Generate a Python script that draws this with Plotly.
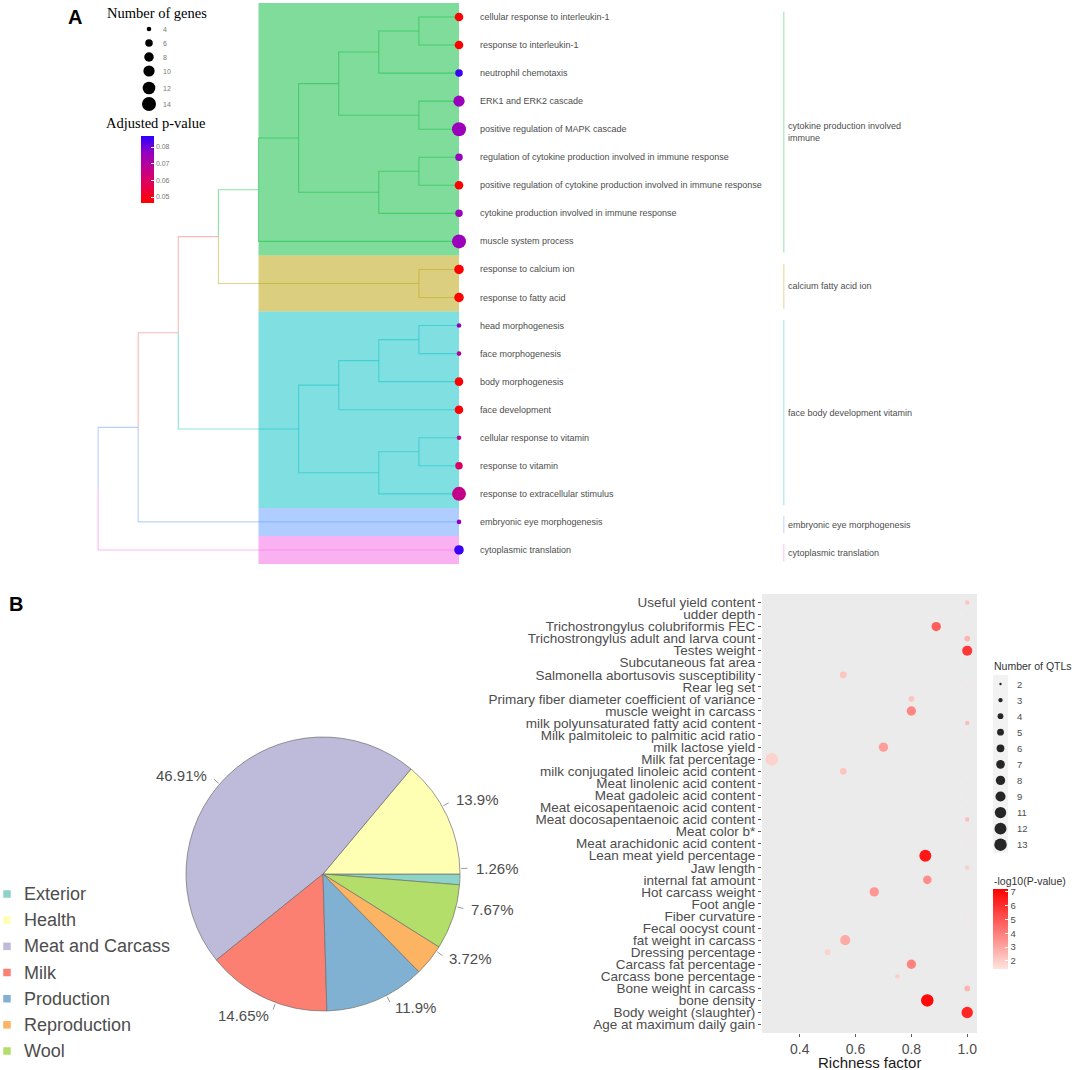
import numpy as np
import plotly.graph_objects as go

W, H = 1072, 1070
FONT = "Liberation Sans, Arial, sans-serif"
SERIF = "Liberation Serif, Times New Roman, serif"

# ================= Panel A data =================
go_terms = [
    "cellular response to interleukin-1", "response to interleukin-1", "neutrophil chemotaxis",
    "ERK1 and ERK2 cascade", "positive regulation of MAPK cascade",
    "regulation of cytokine production involved in immune response",
    "positive regulation of cytokine production involved in immune response",
    "cytokine production involved in immune response", "muscle system process",
    "response to calcium ion", "response to fatty acid", "head morphogenesis", "face morphogenesis",
    "body morphogenesis", "face development", "cellular response to vitamin", "response to vitamin",
    "response to extracellular stimulus", "embryonic eye morphogenesis", "cytoplasmic translation",
]
gene_counts = [7, 7, 6, 10, 14, 6, 7, 6, 14, 8, 8, 4, 4, 7, 7, 4, 6, 14, 4, 8]
adj_pvalues = [0.046, 0.046, 0.085, 0.075, 0.075, 0.076, 0.046, 0.075, 0.075, 0.046, 0.046,
               0.076, 0.069, 0.046, 0.046, 0.067, 0.060, 0.066, 0.076, 0.085]

# dendrogram merges: (node, child1, child2, height)
tree_merges = [
    ("a", "L1", "L2", 1), ("b", "a", "L3", 2), ("c", "L4", "L5", 1), ("d", "b", "c", 3),
    ("e", "L6", "L7", 1), ("f", "e", "L8", 2), ("g", "d", "f", 4), ("h", "g", "L9", 5),
    ("t", "L10", "L11", 1), ("i", "h", "t", 6),
    ("j", "L12", "L13", 1), ("k", "j", "L14", 2), ("l", "k", "L15", 3),
    ("m", "L16", "L17", 1), ("n", "m", "L18", 2), ("o", "l", "n", 4),
    ("p", "i", "o", 7), ("q", "p", "L19", 8), ("r", "q", "L20", 9),
]
cluster_names = ["cytokine production involved<br>immune", "calcium fatty acid ion",
                 "face body development vitamin", "embryonic eye morphogenesis",
                 "cytoplasmic translation"]
cluster_first = [1, 10, 12, 19, 20]
cluster_last = [9, 11, 18, 19, 20]
cluster_rgb = [(0, 186, 56), (183, 159, 0), (0, 191, 196), (97, 156, 255), (245, 100, 227)]
root_rgb = (248, 118, 109)
# edge colour group of each internal node (to its parent)
internal_group = {"a": 0, "b": 0, "c": 0, "d": 0, "e": 0, "f": 0, "g": 0, "h": 0, "t": 1,
                  "j": 2, "k": 2, "l": 2, "m": 2, "n": 2, "o": 2,
                  "i": "root", "p": "root", "q": 3}
pval_ticks = [0.05, 0.06, 0.07, 0.08]
gene_legend = [4, 6, 8, 10, 12, 14]

# ================= Panel B data =================
pie_labels = ["Exterior", "Health", "Meat and Carcass", "Milk", "Production", "Reproduction", "Wool"]
pie_values = [1.26, 13.9, 46.91, 14.65, 11.9, 3.72, 7.67]
pie_colors = ["#8DD3C7", "#FFFFB3", "#BEBADA", "#FB8072", "#80B1D3", "#FDB462", "#B3DE69"]

qtl_traits = [
    "Useful yield content", "udder depth", "Trichostrongylus colubriformis FEC",
    "Trichostrongylus adult and larva count", "Testes weight", "Subcutaneous fat area",
    "Salmonella abortusovis susceptibility", "Rear leg set",
    "Primary fiber diameter coefficient of variance", "muscle weight in carcass",
    "milk polyunsaturated fatty acid content", "Milk palmitoleic to palmitic acid ratio",
    "milk lactose yield", "Milk fat percentage", "milk conjugated linoleic acid content",
    "Meat linolenic acid content", "Meat gadoleic acid content", "Meat eicosapentaenoic acid content",
    "Meat docosapentaenoic acid content", "Meat color b*", "Meat arachidonic acid content",
    "Lean meat yield percentage", "Jaw length", "internal fat amount", "Hot carcass weight",
    "Foot angle", "Fiber curvature", "Fecal oocyst count", "fat weight in carcass",
    "Dressing percentage", "Carcass fat percentage", "Carcass bone percentage",
    "Bone weight in carcass", "bone density", "Body weight (slaughter)", "Age at maximum daily gain",
]
richness = [1.0, 1.0, 0.889, 1.0, 1.0, 1.0, 0.556, 1.0, 0.8, 0.8, 1.0, 1.0, 0.7, 0.3, 0.556,
            1.0, 1.0, 1.0, 1.0, 1.0, 1.0, 0.85, 1.0, 0.857, 0.667, 1.0, 1.0, 1.0, 0.563,
            0.5, 0.8, 0.75, 1.0, 0.857, 1.0, 1.0]
qtl_counts = [3, 2, 8, 4, 9, 2, 5, 2, 4, 8, 3, 2, 8, 13, 5, 2, 2, 2, 3, 2, 2, 12, 3, 7, 8,
              2, 2, 2, 9, 4, 8, 3, 4, 13, 11, 2]
neglog10p = [2.2, 1.5, 4.8, 2.6, 5.8, 1.5, 2.2, 1.5, 2.2, 3.8, 2.4, 1.5, 3.2, 1.9, 2.2,
             1.5, 1.5, 1.5, 2.4, 1.5, 1.5, 6.6, 2.0, 3.6, 3.4, 1.5, 1.5, 1.5, 2.9,
             1.9, 3.9, 2.0, 2.6, 7.0, 6.2, 1.5]
qtl_legend = [2, 3, 4, 5, 6, 7, 8, 9, 11, 12, 13]
richness_ticks = [0.4, 0.6, 0.8, 1.0]
logp_ticks = [2, 3, 4, 5, 6, 7]


def sizeA(g):
    return 14 * np.sqrt((np.asarray(g, float) - 2.8) / 11.2)


def sizeB(n):
    return 12.5 * np.sqrt((np.asarray(n, float) - 1.6) / 11.4)


def rgba(c, a):
    return f"rgba({c[0]},{c[1]},{c[2]},{a})"


fig = go.Figure()

# ---------- layout geometry (pixels) ----------
leaf_px, step_px = 459.0, 40.1        # tree x
leaf1_py, leafstep_py = 17.0, 28.05   # tree y
A_bottom = 575.0

# ================= Panel A: dendrogram =================
node_x = {f"L{i+1}": 0.0 for i in range(len(go_terms))}
node_y = {f"L{i+1}": float(i + 1) for i in range(len(go_terms))}
parent = {}
for name, c1, c2, h in tree_merges:
    node_x[name] = float(h)
    node_y[name] = (node_y[c1] + node_y[c2]) / 2
    parent[c1] = name
    parent[c2] = name

leaf_group = {}
for ci, (f0, l0) in enumerate(zip(cluster_first, cluster_last)):
    for k in range(f0, l0 + 1):
        leaf_group[f"L{k}"] = ci


def group_of(n):
    return leaf_group[n] if n.startswith("L") else internal_group[n]


segs = {}
for child, par in parent.items():
    g = group_of(child)
    xs, ys = segs.setdefault(g, ([], []))
    xs += [node_x[child], node_x[par], node_x[par], None]
    ys += [node_y[child], node_y[child], node_y[par], None]

# cluster rectangles
rect_left = 5.0
for ci in range(len(cluster_names)):
    fig.add_shape(type="rect", xref="x", yref="y", x0=rect_left, x1=0,
                  y0=cluster_first[ci] - 0.5, y1=cluster_last[ci] + 0.5,
                  fillcolor=rgba(cluster_rgb[ci], 0.5), line_width=0, layer="below")

for g, (xs, ys) in segs.items():
    col = rgba(root_rgb, 0.5) if g == "root" else rgba(cluster_rgb[g], 0.45)
    fig.add_trace(go.Scatter(x=xs, y=ys, mode="lines", line=dict(color=col, width=1.1),
                             hoverinfo="skip", showlegend=False, xaxis="x", yaxis="y"))

pv_scale = [[0, "#FF0000"], [0.25, "#E6004C"], [0.5, "#C2008C"], [0.75, "#9400C2"], [1, "#2A00FF"]]
fig.add_trace(go.Scatter(
    x=[0.0] * len(go_terms), y=list(range(1, len(go_terms) + 1)), mode="markers",
    marker=dict(size=sizeA(gene_counts), color=adj_pvalues, colorscale=pv_scale,
                cmin=0.0464, cmax=0.0866, line_width=0, opacity=1,
                showscale=True,
                colorbar=dict(x=141 / W, xanchor="left", y=1 - 169.5 / H, yanchor="middle",
                              len=67, lenmode="pixels", thickness=13, thicknessmode="pixels",
                              xpad=0, ypad=0, outlinewidth=0, tickvals=pval_ticks,
                              ticktext=[f"{v:.2f}" for v in pval_ticks], ticks="inside",
                              tickcolor="white", ticklen=3,
                              tickfont=dict(size=7, color="#777777", family=FONT))),
    hoverinfo="skip", showlegend=False, xaxis="x", yaxis="y"))

for i, term in enumerate(go_terms):
    fig.add_annotation(x=-0.47, y=i + 1, xref="x", yref="y", text=term, showarrow=False,
                       xanchor="left", yanchor="middle",
                       font=dict(size=9, color="#4D4D4D", family=FONT))

lab_x = -8.1
for ci, name in enumerate(cluster_names):
    y0, y1 = cluster_first[ci] - 0.2, cluster_last[ci] + 0.4
    fig.add_trace(go.Scatter(x=[lab_x, lab_x], y=[y0, y1], mode="lines",
                             line=dict(color=rgba(cluster_rgb[ci], 0.35), width=1.2),
                             hoverinfo="skip", showlegend=False, xaxis="x", yaxis="y"))
    fig.add_annotation(x=lab_x - 0.05, y=(y0 + y1) / 2, xref="x", yref="y", text=name,
                       showarrow=False, xanchor="left", yanchor="middle", align="left",
                       font=dict(size=9, color="#4D4D4D", family=FONT))

# ================= Panel B: pie =================
cx, cy, R = 323.0, 874.0, 137.0
fig.add_trace(go.Pie(
    values=pie_values, labels=pie_labels, sort=False, direction="counterclockwise", rotation=90,
    marker=dict(colors=pie_colors, line=dict(color="#6E6E6E", width=0.7)),
    textinfo="none", hoverinfo="skip", showlegend=False,
    domain=dict(x=[(cx - R) / W, (cx + R) / W], y=[1 - (cy + R) / H, 1 - (cy - R) / H])))

vals = np.asarray(pie_values)
cum = np.cumsum(vals) - vals / 2
theta = cum / vals.sum() * 2 * np.pi
tx, ty = [], []
for k, th in enumerate(theta):
    c, s = np.cos(th), np.sin(th)
    tx += [1.01 * c, 1.055 * c, None]
    ty += [1.01 * s, 1.055 * s, None]
    fig.add_annotation(x=1.1 * c, y=1.1 * s, xref="x3", yref="y3",
                       text=f"{pie_values[k]}%", showarrow=False,
                       xanchor="left" if c > 0 else "right", yanchor="middle",
                       font=dict(size=15, color="#4D4D4D", family=FONT))
fig.add_trace(go.Scatter(x=tx, y=ty, mode="lines", line=dict(color="#7F7F7F", width=0.8),
                         hoverinfo="skip", showlegend=False, xaxis="x3", yaxis="y3"))

# pie legend
leg_y0, leg_dy = 894.0, 26.17
for k, lab in enumerate(pie_labels):
    yk = leg_y0 + k * leg_dy
    fig.add_trace(go.Scatter(x=[7], y=[yk], mode="markers",
                             marker=dict(symbol="square", size=7.5, color=pie_colors[k], opacity=1),
                             hoverinfo="skip", showlegend=False, xaxis="x4", yaxis="y4"))
    fig.add_annotation(x=22, y=yk, xref="x4", yref="y4", text=lab, showarrow=False,
                       xanchor="left", yanchor="middle",
                       font=dict(size=18, color="#4D4D4D", family=FONT))

# ================= Panel B: bubble chart =================
bx0, bx1, by0, by1 = 762.0, 977.0, 594.0, 1033.0
fig.add_shape(type="rect", xref="x2 domain", yref="y2 domain", x0=0, x1=1, y0=0, y1=1,
              fillcolor="#EBEBEB", line_width=0, layer="below")
fig.add_trace(go.Scatter(
    x=richness, y=qtl_traits, mode="markers",
    marker=dict(size=sizeB(qtl_counts), color=neglog10p,
                colorscale=[[0, "#FDE4DE"], [1, "#FF0000"]], cmin=1.42, cmax=7.2,
                line_width=0, opacity=1, showscale=True,
                colorbar=dict(x=993 / W, xanchor="left", y=1 - 929 / H, yanchor="middle",
                              len=80, lenmode="pixels", thickness=15, thicknessmode="pixels",
                              xpad=0, ypad=0, outlinewidth=0, tickvals=logp_ticks,
                              ticks="inside", tickcolor="white", ticklen=3,
                              tickfont=dict(size=9.5, color="#4D4D4D", family=FONT))),
    hoverinfo="skip", showlegend=False, xaxis="x2", yaxis="y2"))

# size legend B
fig.add_shape(type="rect", xref="x4", yref="y4", x0=993, x1=1008, y0=675, y1=853,
              fillcolor="#F2F2F2", line_width=0, layer="below")
qy = [684 + 16.07 * k for k in range(len(qtl_legend))]
fig.add_trace(go.Scatter(x=[1000.5] * len(qtl_legend), y=qy, mode="markers",
                         marker=dict(size=sizeB(qtl_legend), color="#262626", line_width=0,
                                     opacity=1),
                         hoverinfo="skip", showlegend=False, xaxis="x4", yaxis="y4"))
for v, yk in zip(qtl_legend, qy):
    fig.add_annotation(x=1015, y=yk, xref="x4", yref="y4", text=str(v), showarrow=False,
                       xanchor="left", yanchor="middle",
                       font=dict(size=9.5, color="#4D4D4D", family=FONT))

# size legend A
gy = [29, 43, 57, 71, 88, 104]
fig.add_trace(go.Scatter(x=[149] * len(gene_legend), y=gy, mode="markers",
                         marker=dict(size=sizeA(gene_legend), color="black", line_width=0,
                                     opacity=1),
                         hoverinfo="skip", showlegend=False, xaxis="x4", yaxis="y4"))
for v, yk in zip(gene_legend, gy):
    fig.add_annotation(x=161, y=yk, xref="x4", yref="y4", text=str(v), showarrow=False,
                       xanchor="left", yanchor="middle",
                       font=dict(size=7, color="#777777", family=FONT))

# titles / panel letters
texts = [
    (157, 13, "Number of genes", "center", dict(size=14.5, color="black", family=SERIF)),
    (155, 123, "Adjusted p-value", "center", dict(size=14.5, color="black", family=SERIF)),
    (992, 666, "Number of QTLs", "left", dict(size=10.5, color="#333333", family=FONT)),
    (992, 881, "-log10(P-value)", "left", dict(size=10.5, color="#333333", family=FONT)),
    (869, 1062, "Richness factor", "center", dict(size=15, color="#1A1A1A", family=FONT)),
    (75, 17, "<b>A</b>", "center", dict(size=20, color="black", family=FONT)),
    (16, 604, "<b>B</b>", "center", dict(size=20, color="black", family=FONT)),
]
for x, y, t, anc, f in texts:
    fig.add_annotation(x=x, y=y, xref="x4", yref="y4", text=t, showarrow=False,
                       xanchor=anc, yanchor="middle", font=f)

# ================= axes =================
hidden = dict(visible=False, showgrid=False, zeroline=False, automargin=False, fixedrange=True)
fig.update_layout(
    width=W, height=H, margin=dict(l=0, r=0, t=0, b=0),
    paper_bgcolor="white", plot_bgcolor="rgba(0,0,0,0)",
    font=dict(family=FONT), showlegend=False,
    xaxis=dict(domain=[0, 1], range=[leaf_px / step_px, -(W - leaf_px) / step_px], **hidden),
    yaxis=dict(domain=[1 - A_bottom / H, 1], anchor="x",
               range=[1 + (A_bottom - leaf1_py) / leafstep_py, 1 - leaf1_py / leafstep_py], **hidden),
    xaxis3=dict(domain=[0, 0.5], anchor="y3", range=[-cx / R, (0.5 * W - cx) / R], **hidden),
    yaxis3=dict(domain=[0, 1 - 585 / H], anchor="x3", range=[-(H - cy) / R, (cy - 585) / R], **hidden),
    xaxis4=dict(domain=[0, 1], anchor="y4", range=[0, W], **hidden),
    yaxis4=dict(domain=[0, 1], anchor="x4", range=[H, 0], **hidden),
    xaxis2=dict(domain=[bx0 / W, bx1 / W], anchor="y2", range=[0.265, 1.035],
                tickmode="array", tickvals=richness_ticks,
                ticktext=[f"{v:.1f}" for v in richness_ticks],
                ticks="outside", ticklen=3, tickcolor="#333333", tickwidth=0.8,
                tickfont=dict(size=14, color="#4D4D4D", family=FONT),
                showgrid=False, zeroline=False, showline=False, automargin=False),
    yaxis2=dict(domain=[1 - by1 / H, 1 - by0 / H], anchor="x2", type="category",
                categoryorder="array", categoryarray=qtl_traits,
                tickmode="array", tickvals=qtl_traits, ticktext=qtl_traits,
                range=[len(qtl_traits) - 1 + 0.7, -0.7],
                ticks="outside", ticklen=3, tickcolor="#333333", tickwidth=0.8,
                tickfont=dict(size=13.5, color="#4D4D4D", family=FONT),
                showgrid=False, zeroline=False, showline=False, automargin=False),
)

fig.write_html("out.html", config={"displayModeBar": False, "staticPlot": True},
               post_script="document.body.style.margin='0';document.body.style.overflow='hidden';")
